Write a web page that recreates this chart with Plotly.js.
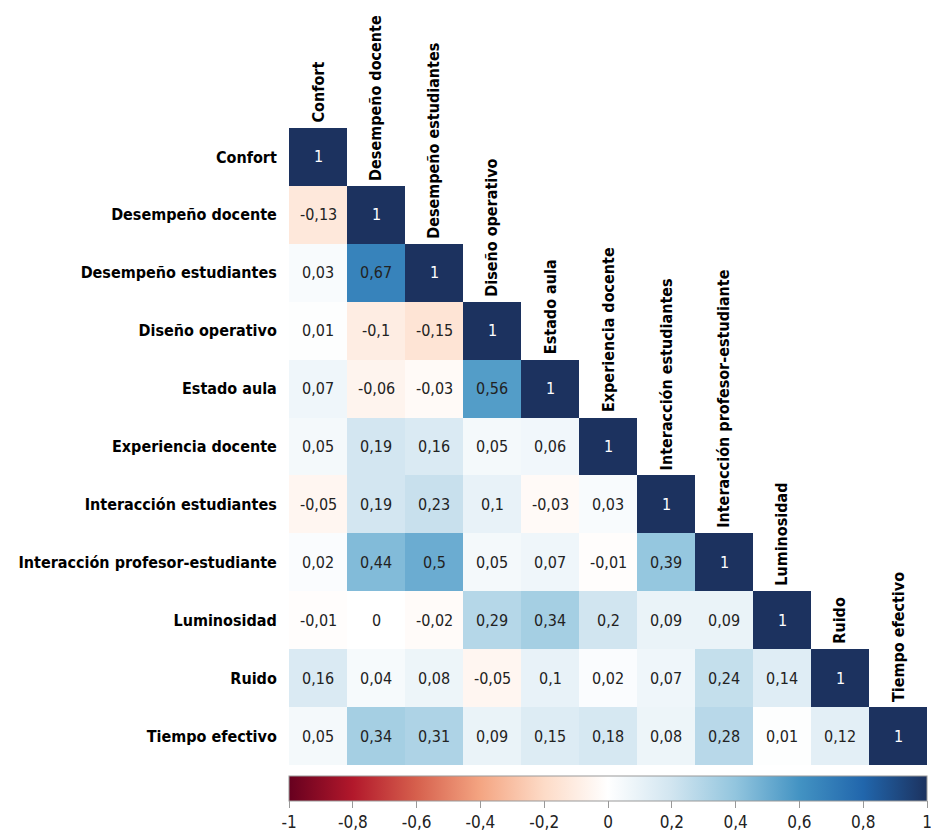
<!DOCTYPE html>
<html>
<head>
<meta charset="utf-8">
<script src="https://cdn.plot.ly/plotly-3.0.1.min.js"></script>
<style>
  html, body { margin: 0; padding: 0; background: #ffffff; }
  #chart { width: 931px; height: 837px; }
</style>
</head>
<body>
<div id="chart"></div>
<script>
// Variables of the classroom study, in matrix order
const variables = [
  "Confort",
  "Desempeño docente",
  "Desempeño estudiantes",
  "Diseño operativo",
  "Estado aula",
  "Experiencia docente",
  "Interacción estudiantes",
  "Interacción profesor-estudiante",
  "Luminosidad",
  "Ruido",
  "Tiempo efectivo"
];

// Lower triangle of the correlation matrix, one row per variable
const rowConfort          = [1];
const rowDesempDocente    = [-0.13, 1];
const rowDesempEstud      = [0.03, 0.67, 1];
const rowDisenoOperativo  = [0.01, -0.1, -0.15, 1];
const rowEstadoAula       = [0.07, -0.06, -0.03, 0.56, 1];
const rowExperiencia      = [0.05, 0.19, 0.16, 0.05, 0.06, 1];
const rowInterEstud       = [-0.05, 0.19, 0.23, 0.1, -0.03, 0.03, 1];
const rowInterProfEstud   = [0.02, 0.44, 0.5, 0.05, 0.07, -0.01, 0.39, 1];
const rowLuminosidad      = [-0.01, 0, -0.02, 0.29, 0.34, 0.2, 0.09, 0.09, 1];
const rowRuido            = [0.16, 0.04, 0.08, -0.05, 0.1, 0.02, 0.07, 0.24, 0.14, 1];
const rowTiempoEfectivo   = [0.05, 0.34, 0.31, 0.09, 0.15, 0.18, 0.08, 0.28, 0.01, 0.12, 1];

const rows = [rowConfort, rowDesempDocente, rowDesempEstud, rowDisenoOperativo,
  rowEstadoAula, rowExperiencia, rowInterEstud, rowInterProfEstud,
  rowLuminosidad, rowRuido, rowTiempoEfectivo];

// Colour bar ticks
const barTicks = [-1, -0.8, -0.6, -0.4, -0.2, 0, 0.2, 0.4, 0.6, 0.8, 1];

const n = variables.length;
const idx = variables.map((_, i) => i);

// Full square grid, upper triangle left empty
const z = rows.map(r => idx.map(j => (j < r.length ? r[j] : null)));

const fmt = v => String(v).replace(".", ",");

const FONT = "'Liberation Sans Narrow', 'DejaVu Sans Condensed', 'Roboto', sans-serif";

const rdbu = [
  [0.0, "#67001F"],
  [0.1, "#B2182B"],
  [0.2, "#D6604D"],
  [0.3, "#F4A582"],
  [0.4, "#FDDBC7"],
  [0.5, "#FFFFFF"],
  [0.6, "#D1E5F0"],
  [0.7, "#92C5DE"],
  [0.8, "#4393C3"],
  [0.9, "#2166AC"],
  [1.0, "#1C325F"]
];

const annotations = [];
rows.forEach((r, i) => {
  r.forEach((v, j) => {
    annotations.push({
      x: j, y: i, xref: "x", yref: "y",
      text: fmt(v), showarrow: false,
      font: { family: FONT, size: 16, color: i === j ? "#ffffff" : "#222222" }
    });
  });
});
// Column headers standing on top of each diagonal cell
variables.forEach((name, j) => {
  annotations.push({
    x: j, y: j - 0.5, xref: "x", yref: "y",
    text: name, showarrow: false, textangle: -90,
    xanchor: "center", yanchor: "bottom", yshift: 3,
    font: { family: FONT, size: 16, color: "#000000", weight: "bold" }
  });
});

const trace = {
  type: "heatmap",
  x: idx, y: idx, z: z,
  zmin: -1, zmax: 1,
  colorscale: rdbu,
  hoverongaps: false,
  colorbar: {
    orientation: "h",
    x: 0, xanchor: "left", len: 1, lenmode: "fraction",
    y: -0.017, yanchor: "top", thickness: 25,
    xpad: 0, ypad: 0,
    outlinewidth: 1, outlinecolor: "#999999",
    tickvals: barTicks, ticktext: barTicks.map(fmt),
    ticklabeloverflow: "allow",
    ticks: "outside", ticklen: 7, tickcolor: "#999999",
    tickfont: { family: FONT, size: 17, color: "#222222" }
  }
};

const layout = {
  width: 931, height: 837,
  margin: { l: 289, r: 4, t: 128, b: 72 },
  paper_bgcolor: "#ffffff", plot_bgcolor: "#ffffff",
  xaxis: {
    range: [-0.5, n - 0.5], showgrid: false, zeroline: false,
    showticklabels: false, ticks: "", fixedrange: true
  },
  yaxis: {
    range: [n - 0.5, -0.5], showgrid: false, zeroline: false,
    tickvals: idx, ticktext: variables,
    ticks: "outside", ticklen: 8, tickcolor: "rgba(0,0,0,0)",
    tickfont: { family: FONT, size: 16, color: "#000000", weight: "bold" },
    fixedrange: true
  },
  annotations: annotations,
  showlegend: false
};

Plotly.newPlot("chart", [trace], layout, { displayModeBar: false, staticPlot: true });
</script>
</body>
</html>
